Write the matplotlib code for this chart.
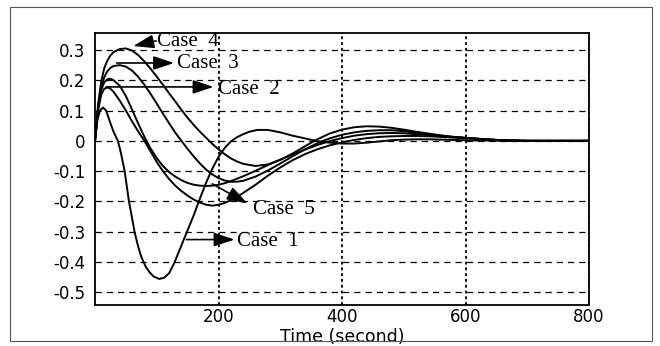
import matplotlib
matplotlib.use("Agg")
import matplotlib.pyplot as plt
from matplotlib.patches import Rectangle

# ---------------- data ----------------
t = [0, 5, 10, 15, 20, 25, 30, 40, 50, 60, 70, 80, 90, 100, 110, 120, 130, 140,
     150, 160, 170, 180, 190, 200, 210, 220, 230, 240, 260, 280, 300, 320, 340,
     360, 380, 400, 420, 440, 460, 480, 500, 520, 540, 560, 580, 600, 620, 640,
     660, 680, 700, 750, 800]

# Case 1 is sampled more finely because it swings fast
t1 = [0, 4, 8, 13, 18, 24, 30, 37, 42, 48, 55, 60, 64, 70, 75, 82, 88, 95, 104,
      112, 120, 128, 136, 144, 152, 160, 170, 180, 190, 200, 210, 220, 230, 240,
      250, 263, 280, 300, 320, 340, 360, 380, 400, 420, 440, 460, 480, 500, 520,
      540, 560, 580, 600, 620, 640, 660, 680, 700, 750, 800]
case1 = [0, 0.07, 0.1, 0.11, 0.1, 0.064, 0.03, 0.0, -0.04, -0.1, -0.2, -0.255,
         -0.3, -0.35, -0.383, -0.415, -0.433, -0.448, -0.456, -0.452, -0.437,
         -0.405, -0.365, -0.325, -0.285, -0.245, -0.19, -0.138, -0.092, -0.053,
         -0.024, -0.002, 0.012, 0.022, 0.03, 0.036, 0.036, 0.028, 0.017, 0.008,
         -0.001, -0.006, -0.009, -0.009, -0.006, -0.002, 0.002, 0.004, 0.005,
         0.005, 0.004, 0.003, 0.002, 0.001, 0.001, 0.0, 0.0, 0.0, 0.0, 0.0]

case2 = [0, 0.1, 0.152, 0.172, 0.176, 0.172, 0.162, 0.133, 0.1, 0.064, 0.031,
         0.0, -0.035, -0.07, -0.1, -0.126, -0.148, -0.166, -0.181, -0.194,
         -0.204, -0.211, -0.214, -0.211, -0.205, -0.196, -0.185, -0.172, -0.145,
         -0.115, -0.088, -0.064, -0.044, -0.028, -0.015, -0.005, 0.003, 0.009,
         0.013, 0.015, 0.016, 0.016, 0.015, 0.013, 0.011, 0.009, 0.006, 0.004,
         0.002, 0.001, 0.0, 0.0, 0.0]

case3 = [0, 0.11, 0.175, 0.21, 0.23, 0.241, 0.247, 0.25, 0.245, 0.232, 0.211,
         0.185, 0.155, 0.123, 0.09, 0.058, 0.027, 0.0, -0.027, -0.052, -0.075,
         -0.095, -0.111, -0.123, -0.131, -0.135, -0.135, -0.132, -0.118, -0.098,
         -0.075, -0.051, -0.028, -0.008, 0.008, 0.02, 0.028, 0.033, 0.035, 0.035,
         0.032, 0.027, 0.022, 0.017, 0.013, 0.01, 0.007, 0.004, 0.002, 0.001,
         0.0, 0.0, 0.0]

case4 = [0, 0.12, 0.195, 0.24, 0.265, 0.282, 0.293, 0.303, 0.305, 0.298, 0.283,
         0.262, 0.238, 0.212, 0.185, 0.157, 0.13, 0.102, 0.076, 0.052, 0.03,
         0.01, -0.01, -0.028, -0.044, -0.058, -0.068, -0.076, -0.083, -0.078,
         -0.063, -0.042, -0.018, 0.005, 0.024, 0.037, 0.045, 0.048, 0.047, 0.043,
         0.037, 0.03, 0.024, 0.018, 0.013, 0.01, 0.007, 0.004, 0.002, 0.001,
         0.0, 0.0, 0.0]

case5 = [0, 0.11, 0.168, 0.193, 0.203, 0.205, 0.2, 0.182, 0.148, 0.103, 0.057,
         0.013, -0.025, -0.057, -0.083, -0.103, -0.118, -0.13, -0.139, -0.145,
         -0.148, -0.149, -0.148, -0.145, -0.14, -0.133, -0.125, -0.117, -0.099,
         -0.08, -0.062, -0.045, -0.029, -0.014, -0.001, 0.009, 0.017, 0.022,
         0.025, 0.026, 0.025, 0.022, 0.019, 0.015, 0.012, 0.009, 0.006, 0.004,
         0.002, 0.001, 0.0, 0.0, 0.0]

xticks = [200, 400, 600, 800]
xtick_labels = ["200", "400", "600", "800"]
yticks = [0.3, 0.2, 0.1, 0.0, -0.1, -0.2, -0.3, -0.4, -0.5]
ytick_labels = ["0.3", "0.2", "0.1", "0", "-0.1", "-0.2", "-0.3", "-0.4", "-0.5"]
xlabel = "Time (second)"

# label text, text anchor (t, y), arrow start (t, y), arrow tip (t, y)
labels = ["Case  4", "Case  3", "Case  2", "Case  5", "Case  1"]
label_pos = [(100, 0.327), (133, 0.255), (199, 0.171), (256, -0.227), (230, -0.333)]
arrow_from = [(99, 0.330), (35, 0.257), (18, 0.178), (190, -0.142), (148, -0.326)]
arrow_to = [(62, 0.313), (128, 0.257), (192, 0.178), (247, -0.207), (226, -0.326)]

# ---------------- figure ----------------
W, H = 660, 346
fig = plt.figure(figsize=(W / 100, H / 100), dpi=100)
fig.patch.set_facecolor("white")

# thin outer frame of the scanned figure
fig.add_artist(Rectangle((10 / W, 1 - 341 / H), (652 - 10) / W, (341 - 7) / H,
                         transform=fig.transFigure, fill=False, lw=0.8,
                         edgecolor="#555555"))

ax_left, ax_right, ax_top, ax_bottom = 95, 589, 33, 305
ax = fig.add_axes([ax_left / W, 1 - ax_bottom / H, (ax_right - ax_left) / W,
                   (ax_bottom - ax_top) / H])

ax.plot(t1, case1, color="black", lw=1.4, solid_joinstyle="round")
for series in (case2, case3, case4, case5):
    ax.plot(t, series, color="black", lw=1.4, solid_joinstyle="round")

ax.set_xlim(0, 800)
ax.set_ylim(-0.542, 0.356)

ax.set_xticks(xticks)
ax.set_xticklabels(xtick_labels)
ax.set_yticks(yticks)
ax.set_yticklabels(ytick_labels)
ax.tick_params(axis="both", length=0, labelsize=12, colors="black")
ax.tick_params(axis="y", pad=7)
ax.tick_params(axis="x", pad=2)

ax.yaxis.grid(True, linestyle=(0, (5, 4)), color="black", lw=0.9)
ax.xaxis.grid(True, linestyle=(0, (1.6, 1.6)), color="black", lw=1.3)
ax.set_axisbelow(True)

for sp in ax.spines.values():
    sp.set_linewidth(1.3)
    sp.set_color("black")

ax.set_xlabel(xlabel, fontsize=12.5)
ax.xaxis.set_label_coords(0.5, -(345.5 - ax_bottom) / (ax_bottom - ax_top))
ax.xaxis.label.set_va("bottom")

for txt, pos, a0, a1 in zip(labels, label_pos, arrow_from, arrow_to):
    ax.text(pos[0], pos[1], txt, ha="left", va="center",
            family="Liberation Serif", fontsize=15)
    ax.annotate("", xy=a1, xytext=a0,
                arrowprops=dict(arrowstyle="-|>,head_length=0.9,head_width=0.3",
                                mutation_scale=14, color="black", lw=1.2,
                                shrinkA=0, shrinkB=0))

fig.savefig("out.png", dpi=100, facecolor="white")
